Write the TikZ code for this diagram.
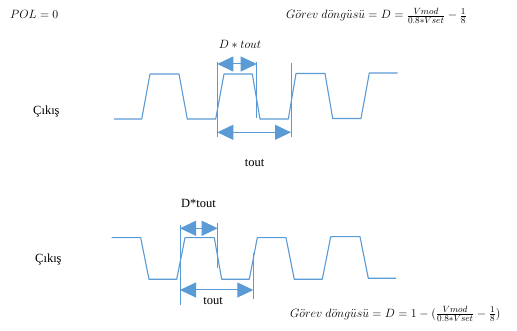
\documentclass[tikz,border=0pt]{standalone}
\usepackage{fontspec}
\setmainfont{Liberation Serif}
\usetikzlibrary{arrows.meta}
\definecolor{wblue}{RGB}{91,155,213}
\tikzset{
  wave/.style={draw=wblue, line width=1.1pt, line join=round},
  guide/.style={draw=wblue, line width=0.9pt},
  dim/.style={draw=wblue, line width=1pt, {Triangle[length=16pt,width=15pt]}-{Triangle[length=16pt,width=15pt]}},
  lbl/.style={inner sep=0pt, anchor=base, font=\fontsize{12.5}{15}\selectfont},
  eq/.style={inner sep=0pt, anchor=base west, font=\fontsize{12.5}{15}\selectfont}
}
\begin{document}
\begin{tikzpicture}[x=1pt,y=-1pt]
\useasboundingbox (0,0) rectangle (517,331);
% headers
\node[eq] (pol) at (10,19) {$POL = 0$};
\node[eq] (eq1) at (286,19) {$G\ddot{o}rev\ d\ddot{o}ng\ddot{u}s\ddot{u} = D = \frac{Vmod}{0.8*Vset} - \frac{1}{8}$};
% top waveform
\node[eq] (out1) at (33,115) {Çıkış};
\draw[wave] (114,119) -- (141.7,119) -- (150,74) -- (179,74) -- (187.3,119) -- (215.7,119)
  -- (224,74) -- (252.3,74) -- (260,119) -- (288.3,119) -- (296,73.5) -- (325,73.5)
  -- (332.7,118.5) -- (361,118.5) -- (369.3,73) -- (397.7,73);
\coordinate (a1t) at (217.3,62.5); \coordinate (a1b) at (217.3,137);
\coordinate (a2t) at (256.7,62.5); \coordinate (a2b) at (256.7,118);
\coordinate (a3t) at (291,63); \coordinate (a3b) at (291,137);
\draw[guide] (a1t) -- (a1b);
\draw[guide] (a2t) -- (a2b);
\draw[guide] (a3t) -- (a3b);
\coordinate (d1l) at (217.3,64); \coordinate (d1r) at (256.7,64);
\draw[dim] (d1l) -- (d1r);
\coordinate (t1l) at (217.3,132.3); \coordinate (t1r) at (291,132.3);
\draw[dim] (t1l) -- (t1r);
\node[lbl] (dt1) at (240,49) {$D * tout$};
\node[lbl] (tt1) at (254.5,167) {tout};
% bottom waveform
\node[eq] (out2) at (35,262) {Çıkış};
\draw[wave] (111.7,237.7) -- (140.7,237.7) -- (149,279.3) -- (176.7,279.3) -- (185,237.7)
  -- (214.3,237.7) -- (221.7,279.3) -- (249.3,279.3) -- (257.3,237.7) -- (286,237.7)
  -- (294.3,279.3) -- (322.3,279.3) -- (330.7,236.7) -- (360,236.7) -- (368.3,278.3) -- (396,278.3);
\coordinate (b1t) at (180,225); \coordinate (b1b) at (180,305);
\coordinate (b2t) at (217.7,223); \coordinate (b2b) at (217.7,268);
\coordinate (b3t) at (253.3,253); \coordinate (b3b) at (253.3,299);
\draw[guide] (b1t) -- (b1b);
\draw[guide] (b2t) -- (b2b);
\draw[guide] (b3t) -- (b3b);
\coordinate (d2l) at (180,228.3); \coordinate (d2r) at (217.7,228.3);
\draw[dim] (d2l) -- (d2r);
\coordinate (t2l) at (180,290); \coordinate (t2r) at (253.3,290);
\draw[dim] (t2l) -- (t2r);
\node[lbl] (dt2) at (198.5,207.3) {D*tout};
\node[lbl] (tt2) at (213,305) {tout};
\node[eq] (eq2) at (290,317) {$G\ddot{o}rev\ d\ddot{o}ng\ddot{u}s\ddot{u} = D = 1 - (\frac{Vmod}{0.8*Vset} - \frac{1}{8})$};
\end{tikzpicture}
\end{document}
